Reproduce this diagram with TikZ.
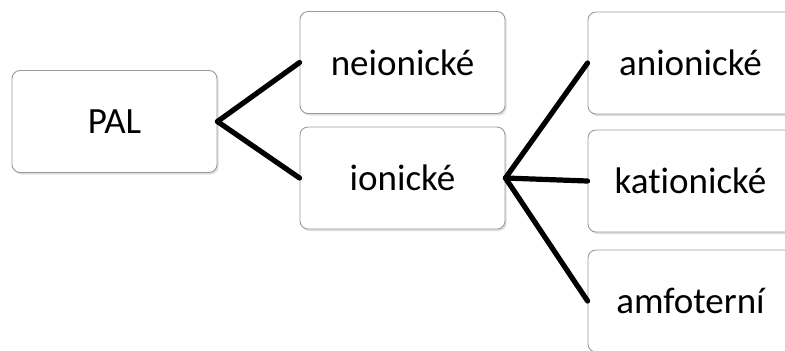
\documentclass[tikz,border=0pt]{standalone}
\usepackage{fontspec}
\setmainfont{Carlito}[Ligatures=NoCommon]
\usepackage{tikz}
\usetikzlibrary{positioning}
\usetikzlibrary{shadows}

\tikzset{
  box/.style={draw=gray!80, line width=0.45pt, rounded corners=4pt, fill=white,
    minimum width=102.5pt, minimum height=51pt, inner sep=0pt,
    font=\fontsize{18.5}{22}\selectfont,
    drop shadow={opacity=0.25, shadow xshift=0.8pt, shadow yshift=-1pt}},
  link/.style={black, line width=2.6pt, line cap=round}
}

\begin{document}
\begin{tikzpicture}[x=0.5pt, y=-0.5pt]

\useasboundingbox (0,0) rectangle (785,350);

% boxes
{
\node[box] (pal) at (114.5,121.5) {PAL};

\node[box] (neion) at (402.5,62.5) {neionické};
\node[box] (ion) at (402.5,178) {ionické};

\node[box] (anion) at (690.5,63) {anionické};
\node[box] (kation) at (690.5,181) {kationické};
\node[box] (amfo) at (690.5,301) {amfoterní};
}

% lines
{
\draw[link] (pal.east)--(neion.west);
\draw[link] (pal.east)--(ion.west);

\draw[link] (ion.east)--(anion.west);
\draw[link] (ion.east)--(kation.west);
\draw[link] (ion.east)--(amfo.west);
}

\end{tikzpicture}
\end{document}
